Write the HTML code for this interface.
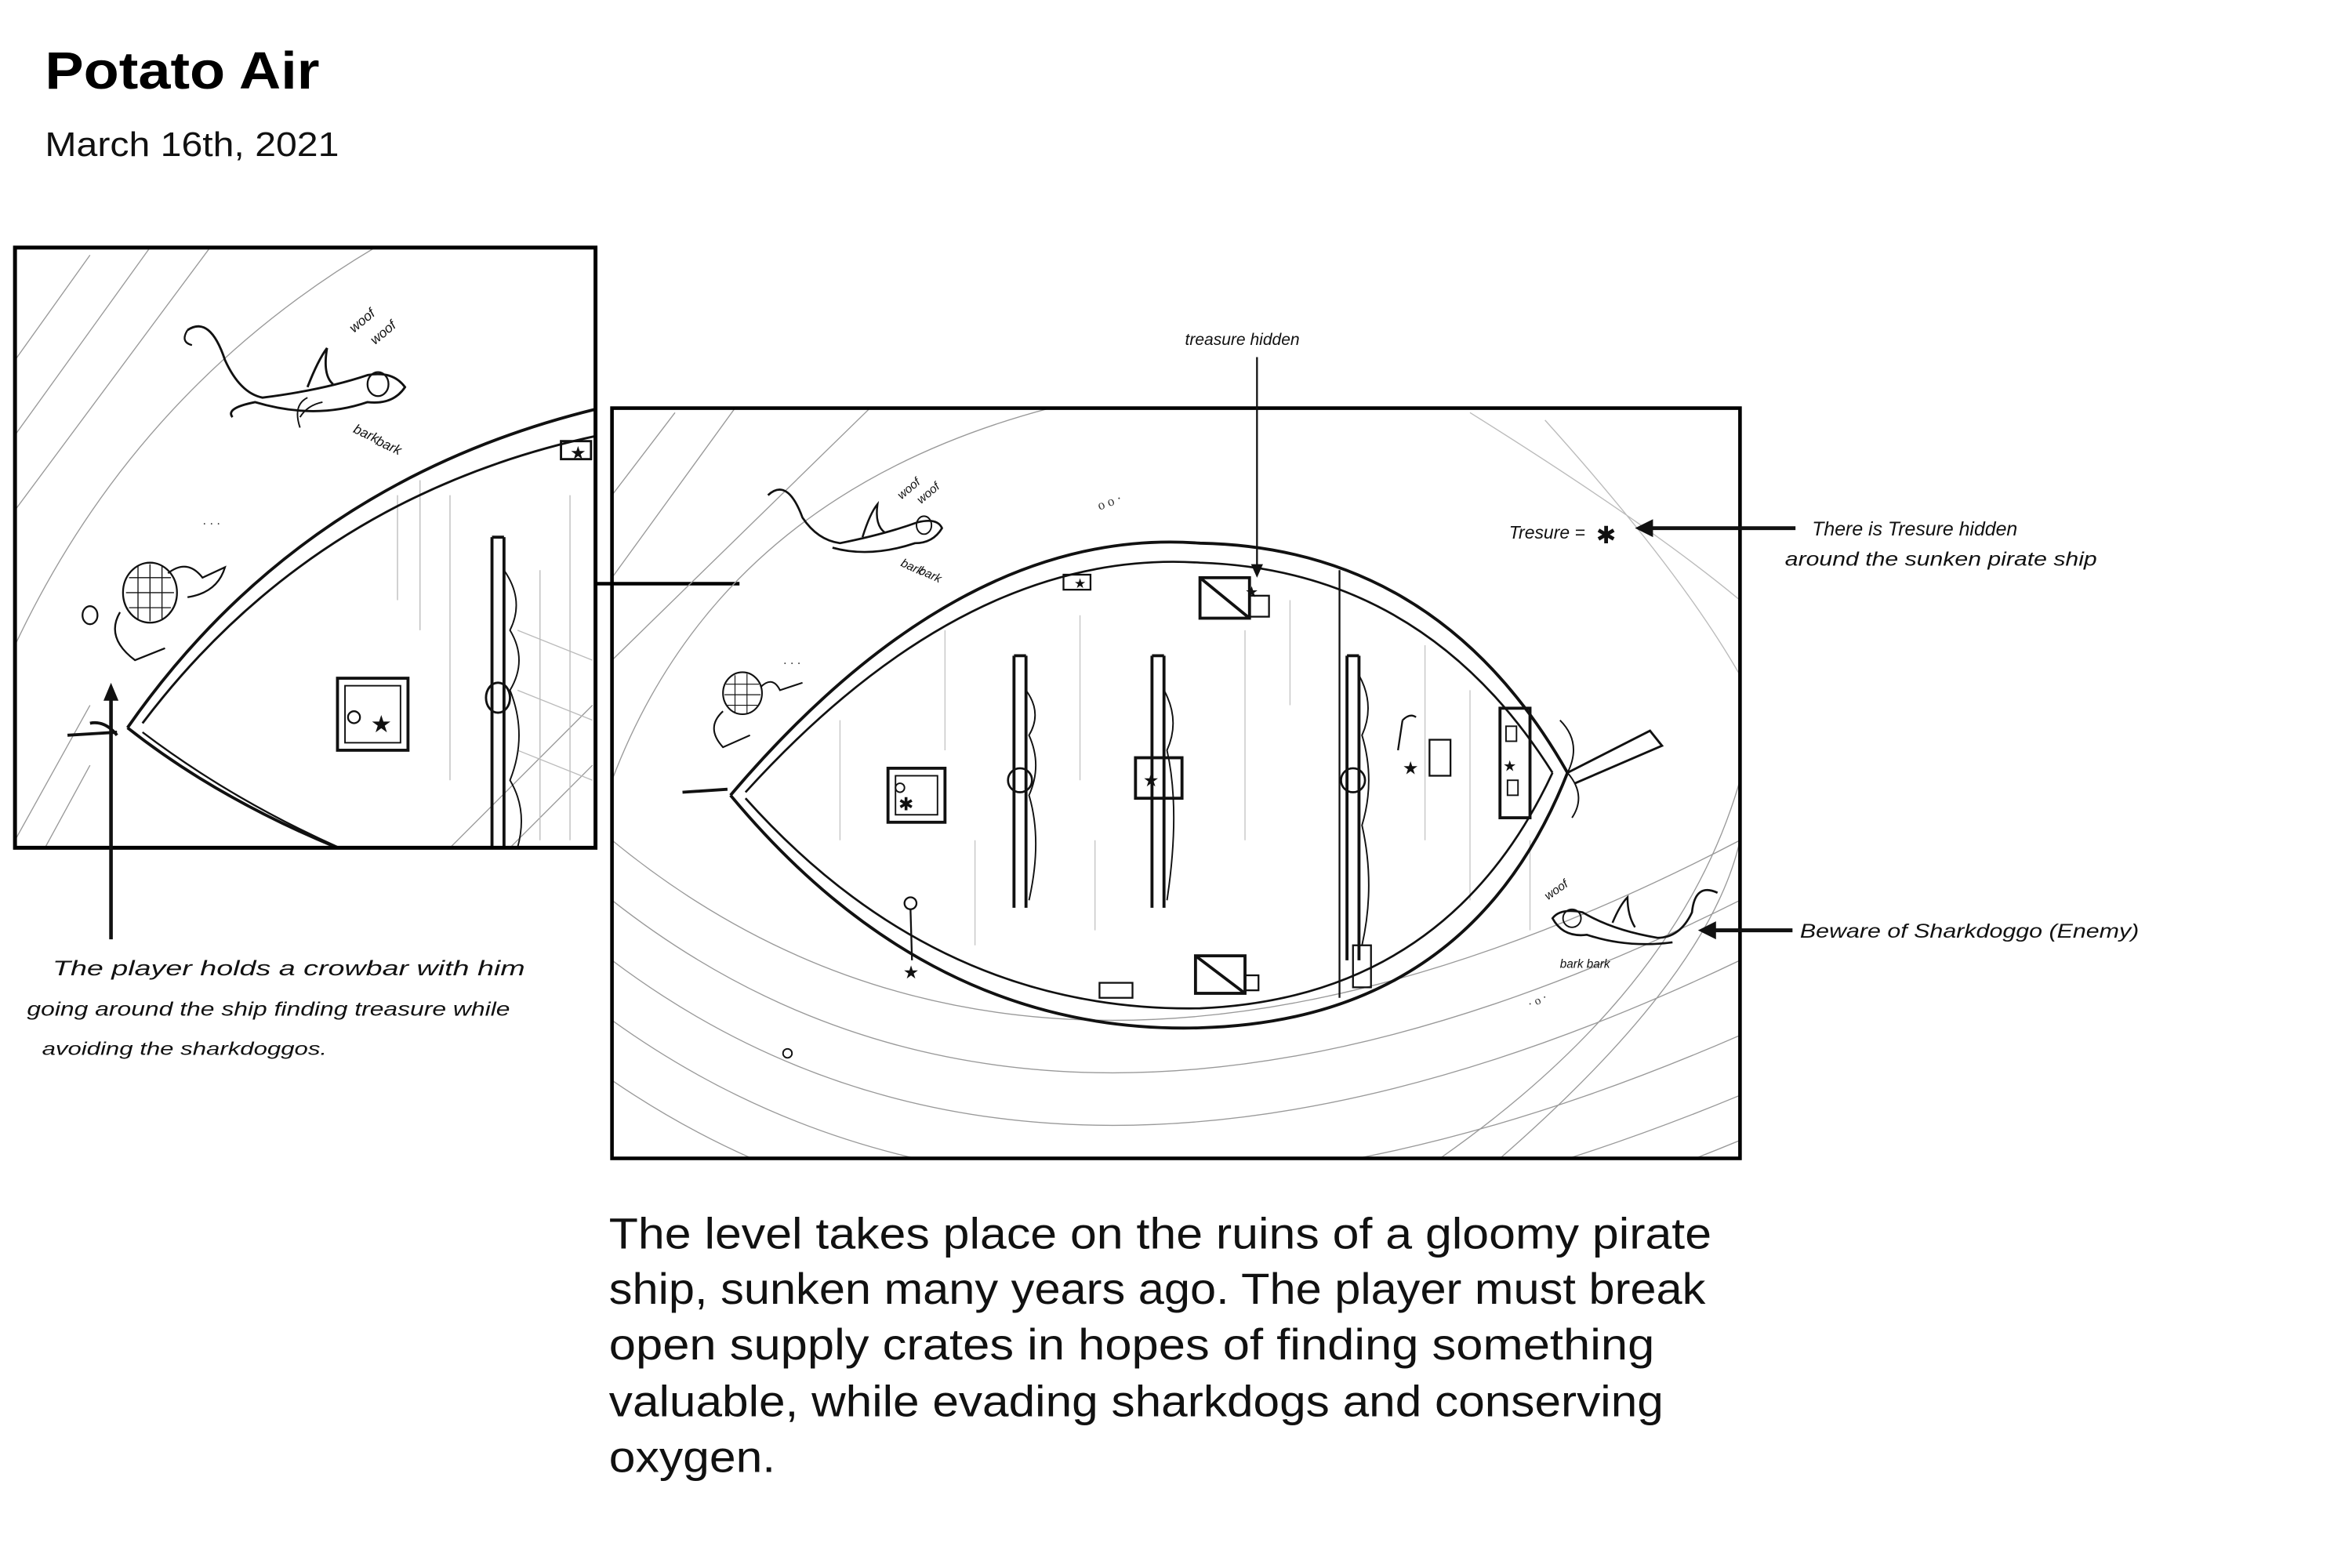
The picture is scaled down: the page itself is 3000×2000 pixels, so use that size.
<!DOCTYPE html>
<html><head><meta charset="utf-8"><style>
html,body{margin:0;padding:0;background:#fff;}
svg{display:block;}
.hw{font-family:"Liberation Sans",sans-serif;font-style:italic;fill:#111;}
</style></head><body>
<svg width="3000" height="2000" viewBox="0 0 1568 1045" preserveAspectRatio="none" xmlns="http://www.w3.org/2000/svg">
<rect width="1568" height="1045" fill="#fff"/>
<text x="30" y="59" font-family="Liberation Sans, sans-serif" font-weight="bold" font-size="35" fill="#000" textLength="183" lengthAdjust="spacingAndGlyphs">Potato Air</text>
<text x="30" y="104" font-family="Liberation Sans, sans-serif" font-size="23" fill="#111" textLength="196" lengthAdjust="spacingAndGlyphs">March 16th, 2021</text>

<!-- LEFT BOX -->
<g>
<clipPath id="cl"><rect x="10" y="165" width="387" height="400"/></clipPath>
<g clip-path="url(#cl)" fill="none" stroke="#999" stroke-width="0.7">
<path d="M10 240 L60 170 M10 290 L100 165 M10 340 L140 165 M10 430 Q90 260 250 165"/>
<path d="M10 560 L60 470 M30 565 L60 510 M300 565 L395 470 M340 565 L395 510"/>
<path d="M265 330 L265 400 M280 320 L280 420 M300 330 L300 520 M380 330 L380 560 M360 380 L360 560" stroke="#bbb"/>
<path d="M345 420 L395 440 M345 460 L395 480 M345 500 L395 520" stroke="#bbb"/>
</g>
<g clip-path="url(#cl)" fill="none" stroke="#111" stroke-width="2">
<path d="M85 485 Q200 320 400 272"/>
<path d="M95 482 Q210 330 400 290" stroke-width="1.5"/>
<path d="M85 485 Q180 560 330 600"/>
<path d="M95 488 Q190 560 320 600" stroke-width="1.2"/>
<path d="M328 358 L328 565 M336 358 L336 565"/>
<path d="M328 358 L336 358"/>
<path d="M336 380 Q350 400 340 420 Q352 440 340 460 Q352 490 340 520 Q352 540 345 565" stroke-width="1"/>
<ellipse cx="332" cy="465" rx="8" ry="10" stroke-width="1.5"/>
<rect x="225" y="452" width="47" height="48"/>
<rect x="230" y="457" width="37" height="38" stroke-width="1"/>
<circle cx="236" cy="478" r="4" stroke-width="1.2"/>
<text x="247" y="488" font-size="16" fill="#111" stroke="none">★</text>
<rect x="374" y="294" width="20" height="12" stroke-width="1.5"/>
<text x="380" y="306" font-size="12" fill="#111" stroke="none">★</text>
<path d="M125 220 Q140 210 150 240 Q160 262 175 265 Q215 260 245 250 Q262 247 270 258 Q262 270 245 268 Q210 280 170 268 Q150 272 155 278" stroke-width="1.5"/>
<path d="M205 258 Q212 240 218 232 Q215 250 222 256" stroke-width="1.5"/>
<path d="M200 278 Q205 270 215 268 M200 285 Q195 270 205 265" stroke-width="1"/>
<ellipse cx="252" cy="256" rx="7" ry="8" stroke-width="1.2"/>
<path d="M125 220 Q120 228 128 230" stroke-width="1.2"/>
<ellipse cx="100" cy="395" rx="18" ry="20" stroke-width="1.2"/>
<path d="M86 385 L114 385 M84 395 L116 395 M86 405 L114 405 M92 377 L92 413 M100 376 L100 414 M108 377 L108 413" stroke-width="0.7"/>
<path d="M112 382 Q125 372 135 385 L150 378 Q145 395 125 398 M80 408 Q70 425 90 440 L110 432" stroke-width="1.2"/>
<ellipse cx="60" cy="410" rx="5" ry="6" stroke-width="1.2"/>
<path d="M45 490 L78 488 M60 482 Q70 480 78 490" stroke-width="2"/>
</g>
<text x="135" y="352" font-size="8" fill="#333">· · ·</text>
<g class="hw" font-size="9"><text x="236" y="222" transform="rotate(-40 236 222)">woof</text><text x="250" y="230" transform="rotate(-40 250 230)">woof</text><text x="235" y="288" transform="rotate(25 235 288)">bark</text><text x="250" y="296" transform="rotate(25 250 296)">bark</text></g>
<rect x="10" y="165" width="387" height="400" fill="none" stroke="#000" stroke-width="2.6"/>
</g>

<line x1="397" y1="389" x2="493" y2="389" stroke="#000" stroke-width="2.4"/>

<!-- MAIN BOX -->
<g>
<clipPath id="cm"><rect x="408" y="272" width="752" height="500"/></clipPath>
<g clip-path="url(#cm)" fill="none" stroke="#999" stroke-width="0.7">
<path d="M408 330 L450 275 M408 385 L490 272 M408 440 L580 272 M408 520 Q480 330 700 272"/>
<path d="M408 560 Q700 800 1160 560 M408 600 Q700 830 1160 600 M408 640 Q700 860 1160 640 M408 680 Q700 890 1160 690 M408 720 Q700 920 1160 730 M420 772 Q700 950 1160 760"/>
<path d="M1000 772 Q1140 650 1160 560 M960 772 Q1120 660 1160 520" />
<path d="M1030 280 Q1120 380 1160 450 M980 275 Q1100 350 1160 400" stroke="#bbb"/>
<path d="M630 420 L630 500 M720 410 L720 520 M830 420 L830 560 M860 400 L860 470 M730 560 L730 620 M950 430 L950 560 M980 460 L980 600 M1020 560 L1020 620 M650 560 L650 630 M560 480 L560 560" stroke="#c4c4c4"/>
</g>
<g clip-path="url(#cm)" fill="none" stroke="#111" stroke-width="2">
<path d="M487 530 Q640 350 800 362 Q960 365 1045 515"/>
<path d="M497 528 Q645 365 800 375 Q950 380 1035 515" stroke-width="1.4"/>
<path d="M487 530 Q620 690 800 685 Q980 680 1045 515"/>
<path d="M497 532 Q625 675 800 672 Q965 665 1035 515" stroke-width="1.4"/>
<path d="M676 437 L676 605 M684 437 L684 605 M676 437 L684 437"/>
<path d="M684 460 Q695 475 686 490 Q695 510 686 530 Q695 560 686 600" stroke-width="1"/>
<path d="M768 437 L768 605 M776 437 L776 605 M768 437 L776 437"/>
<path d="M776 460 Q787 480 778 500 Q787 540 778 600" stroke-width="1"/>
<path d="M898 437 L898 640 M906 437 L906 640 M898 437 L906 437"/>
<path d="M906 450 Q917 470 908 490 Q917 520 908 550 Q917 590 908 630" stroke-width="1"/>
<path d="M893 380 L893 665" stroke-width="1.2"/>
<rect x="902" y="630" width="12" height="28" stroke-width="1.2"/>
<rect x="800" y="385" width="33" height="27"/><path d="M800 385 L833 412"/><rect x="833" y="397" width="13" height="14" stroke-width="1.2"/>
<rect x="592" y="512" width="38" height="36"/><rect x="597" y="517" width="28" height="26" stroke-width="1"/><circle cx="600" cy="525" r="3" stroke-width="1"/>
<rect x="757" y="505" width="31" height="27"/>
<rect x="797" y="637" width="33" height="25"/><path d="M797 637 L830 662"/><rect x="830" y="650" width="9" height="10" stroke-width="1.2"/>
<rect x="1000" y="472" width="20" height="73"/><rect x="1004" y="484" width="7" height="10" stroke-width="1"/><rect x="1005" y="520" width="7" height="10" stroke-width="1"/>
<rect x="953" y="493" width="14" height="24" stroke-width="1.2"/>
<rect x="709" y="383" width="18" height="10" stroke-width="1.2"/>
<rect x="733" y="655" width="22" height="10" stroke-width="1.2"/>
<ellipse cx="680" cy="520" rx="8" ry="8" stroke-width="1.4"/>
<ellipse cx="902" cy="520" rx="8" ry="8" stroke-width="1.4"/>
<path d="M1045 515 L1100 487 L1108 497 L1050 522" stroke-width="1.5"/>
<path d="M1040 480 Q1055 495 1045 515 Q1058 530 1048 545" stroke-width="1"/>
<circle cx="607" cy="602" r="4" stroke-width="1.2"/><path d="M607 606 L608 640" stroke-width="1.2"/>
<path d="M935 480 Q940 475 944 478 M935 480 L932 500" stroke-width="1.2"/>
<path d="M512 330 Q525 318 535 345 Q545 360 560 362 Q590 356 612 348 Q625 345 628 352 Q622 362 610 362 Q580 372 555 365" stroke-width="1.4"/>
<path d="M575 358 Q580 342 585 336 Q583 350 590 355" stroke-width="1.3"/>
<ellipse cx="616" cy="350" rx="5" ry="6" stroke-width="1"/>
<path d="M1145 595 Q1130 588 1128 608 Q1120 625 1105 625 Q1075 620 1055 608 Q1040 605 1035 612 Q1042 625 1058 623 Q1085 632 1115 628" stroke-width="1.4"/>
<path d="M1075 615 Q1080 603 1085 598 Q1085 610 1090 618" stroke-width="1.3"/>
<ellipse cx="1048" cy="612" rx="6" ry="6" stroke-width="1"/>
<ellipse cx="495" cy="462" rx="13" ry="14" stroke-width="1.1"/>
<path d="M484 456 L506 456 M483 463 L507 463 M485 470 L505 470 M490 450 L490 475 M498 449 L498 476" stroke-width="0.6"/>
<path d="M507 458 Q515 450 520 460 L535 455 M482 474 Q470 485 482 498 L500 490" stroke-width="1.1"/>
<path d="M455 528 L485 526" stroke-width="2"/>
<circle cx="525" cy="702" r="3" stroke-width="1"/>
</g>
<g fill="#111" font-family="DejaVu Sans, sans-serif">
<text x="830" y="398" font-size="10">★</text>
<text x="599" y="540" font-size="12">✱</text>
<text x="762" y="524" font-size="12">★</text>
<text x="602" y="652" font-size="12">★</text>
<text x="716" y="392" font-size="9">★</text>
<text x="935" y="516" font-size="12">★</text>
<text x="1002" y="514" font-size="10">★</text>
</g>
<text x="733" y="340" font-size="9" fill="#333" transform="rotate(-20 733 340)">o o ·</text>
<text x="522" y="445" font-size="8" fill="#333">· · ·</text>
<text x="1020" y="672" font-size="8" fill="#333" transform="rotate(-25 1020 672)">· o ·</text>
<g class="hw" font-size="8"><text x="601" y="333" transform="rotate(-40 601 333)">woof</text><text x="614" y="336" transform="rotate(-40 614 336)">woof</text><text x="600" y="377" transform="rotate(25 600 377)">bark</text><text x="612" y="382" transform="rotate(25 612 382)">bark</text>
<text x="1032" y="600" transform="rotate(-35 1032 600)">woof</text><text x="1040" y="645">bark bark</text></g>
<rect x="408" y="272" width="752" height="500" fill="none" stroke="#000" stroke-width="2.4"/>
</g>

<text x="790" y="230" class="hw" font-size="11">treasure hidden</text>
<line x1="838" y1="238" x2="838" y2="378" stroke="#111" stroke-width="1.2"/>
<path d="M834 376 L842 376 L838 385 Z" fill="#111"/>

<text x="1006" y="359" class="hw" font-size="12">Tresure =</text>
<text x="1064" y="362" font-size="16" fill="#111" font-family="DejaVu Sans, sans-serif">✱</text>
<line x1="1100" y1="352" x2="1197" y2="352" stroke="#111" stroke-width="2.6"/>
<path d="M1090 352 L1102 346 L1102 358 Z" fill="#111"/>
<text x="1208" y="357" class="hw" font-size="13">There is Tresure hidden</text>
<text x="1190" y="377" class="hw" font-size="13" textLength="208" lengthAdjust="spacingAndGlyphs">around the sunken pirate ship</text>

<line x1="1142" y1="620" x2="1195" y2="620" stroke="#111" stroke-width="2.6"/>
<path d="M1132 620 L1144 614 L1144 626 Z" fill="#111"/>
<text x="1200" y="625" class="hw" font-size="13" textLength="226" lengthAdjust="spacingAndGlyphs">Beware of Sharkdoggo (Enemy)</text>

<line x1="74" y1="465" x2="74" y2="626" stroke="#111" stroke-width="2.4"/>
<path d="M74 455 L69 467 L79 467 Z" fill="#111"/>
<text x="35" y="650" class="hw" font-size="14" textLength="315" lengthAdjust="spacingAndGlyphs">The player holds  a crowbar  with him</text>
<text x="18" y="677" class="hw" font-size="13" textLength="322" lengthAdjust="spacingAndGlyphs">going around  the ship finding treasure while</text>
<text x="28" y="703" class="hw" font-size="12" textLength="190" lengthAdjust="spacingAndGlyphs">avoiding  the  sharkdoggos.</text>

<g font-family="Liberation Sans, sans-serif" font-size="29" fill="#111" lengthAdjust="spacingAndGlyphs">
<text x="406" y="832" textLength="735" lengthAdjust="spacingAndGlyphs">The level takes place on the ruins of a gloomy pirate</text>
<text x="406" y="869" textLength="731" lengthAdjust="spacingAndGlyphs">ship, sunken many years ago. The player must break</text>
<text x="406" y="906" textLength="697" lengthAdjust="spacingAndGlyphs">open supply crates in hopes of finding something</text>
<text x="406" y="944" textLength="703" lengthAdjust="spacingAndGlyphs">valuable, while evading sharkdogs and conserving</text>
<text x="406" y="981" textLength="111" lengthAdjust="spacingAndGlyphs">oxygen.</text>
</g>
</svg>
</body></html>
